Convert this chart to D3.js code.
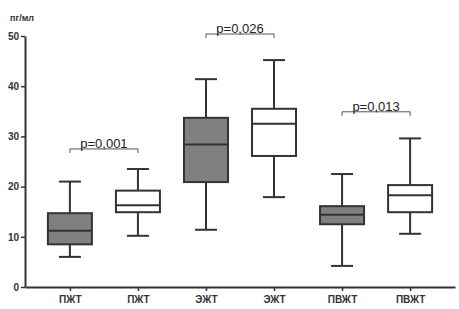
<!DOCTYPE html>
<html>
<head>
<meta charset="utf-8">
<script src="https://cdn.jsdelivr.net/npm/d3@7"></script>
<style>
  body { margin: 0; background: #fff; }
  svg { display: block; }
</style>
</head>
<body>
<div id="chart"></div>
<script>
// groups along the x axis
const labels = ['ПЖТ', 'ПЖТ', 'ЭЖТ', 'ЭЖТ', 'ПВЖТ', 'ПВЖТ'];
const filled = [true, false, true, false, true, false];
// box statistics per group
const whiskerLow = [6.0, 10.2, 11.4, 17.9, 4.2, 10.6];
const q1 = [8.5, 14.9, 20.9, 26.1, 12.5, 14.9];
const median = [11.2, 16.3, 28.4, 32.5, 14.4, 18.3];
const q3 = [14.7, 19.2, 33.7, 35.5, 16.1, 20.3];
const whiskerHigh = [21.0, 23.5, 41.4, 45.2, 22.5, 29.6];
// significance brackets
const pLabels = ['p=0,001', 'p=0,026', 'p=0,013'];
const pFrom = [0, 2, 4];
const pTo = [1, 3, 5];
const pLevel = [27.5, 50.4, 34.9];
const yTicks = [0, 10, 20, 30, 40, 50];

const svgWidth = 459, svgHeight = 309;
const ink = '#333';

const svg = d3.select('#chart')
  .append('svg')
  .attr('width', svgWidth)
  .attr('height', svgHeight);

const x = d3.scalePoint()
  .domain(d3.range(labels.length))
  .range([25, 455])
  .padding(0.66);

const y = d3.scaleLinear()
  .domain([0, 50])
  .range([287, 36]);

const boxW = 44;

// y axis
const yAxis = svg.append('g')
  .attr('transform', 'translate(25,0)')
  .call(d3.axisLeft(y).tickValues(yTicks).tickSize(4).tickSizeOuter(0));
yAxis.select('.domain').attr('stroke', ink).attr('stroke-width', 2);
yAxis.selectAll('line').attr('stroke', ink).attr('stroke-width', 1.5);
yAxis.selectAll('text')
  .attr('fill', ink)
  .style('font', 'bold 10px "Liberation Sans", Arial, sans-serif')
  .attr('x', -6);

// x axis
const xAxis = svg.append('g')
  .attr('transform', 'translate(0,287)')
  .call(d3.axisBottom(x).tickSize(4).tickSizeOuter(0).tickFormat((i) => labels[i]));
xAxis.select('.domain').attr('stroke', ink).attr('stroke-width', 2);
xAxis.selectAll('line').attr('stroke', ink).attr('stroke-width', 1.5);
xAxis.selectAll('text')
  .attr('fill', ink)
  .attr('y', 9)
  .style('font', 'bold 10px "Liberation Sans", Arial, sans-serif');

// unit label
svg.append('text')
  .attr('x', 10)
  .attr('y', 21)
  .attr('fill', ink)
  .style('font', 'bold 9px "Liberation Sans", Arial, sans-serif')
  .text('пг/мл');

// boxes
const groups = svg.selectAll('.box')
  .data(d3.range(labels.length))
  .enter()
  .append('g')
  .attr('class', 'box');

groups.append('line')
  .attr('x1', (i) => x(i)).attr('x2', (i) => x(i))
  .attr('y1', (i) => y(whiskerHigh[i])).attr('y2', (i) => y(q3[i]))
  .attr('stroke', ink).attr('stroke-width', 2);
groups.append('line')
  .attr('x1', (i) => x(i)).attr('x2', (i) => x(i))
  .attr('y1', (i) => y(q1[i])).attr('y2', (i) => y(whiskerLow[i]))
  .attr('stroke', ink).attr('stroke-width', 2);
[whiskerHigh, whiskerLow].forEach((arr) => {
  groups.append('line')
    .attr('x1', (i) => x(i) - 11).attr('x2', (i) => x(i) + 11)
    .attr('y1', (i) => y(arr[i])).attr('y2', (i) => y(arr[i]))
    .attr('stroke', ink).attr('stroke-width', 2);
});
groups.append('rect')
  .attr('x', (i) => x(i) - boxW / 2)
  .attr('y', (i) => y(q3[i]))
  .attr('width', boxW)
  .attr('height', (i) => y(q1[i]) - y(q3[i]))
  .attr('fill', (i) => (filled[i] ? '#808080' : '#fff'))
  .attr('stroke', ink).attr('stroke-width', 2);
groups.append('line')
  .attr('x1', (i) => x(i) - boxW / 2).attr('x2', (i) => x(i) + boxW / 2)
  .attr('y1', (i) => y(median[i])).attr('y2', (i) => y(median[i]))
  .attr('stroke', ink).attr('stroke-width', 2);

// significance brackets
pLabels.forEach((lab, k) => {
  const x1 = x(pFrom[k]), x2 = x(pTo[k]), yy = y(pLevel[k]);
  svg.append('path')
    .attr('d', `M${x1},${yy + 4}V${yy}H${x2}V${yy + 4}`)
    .attr('fill', 'none')
    .attr('stroke', '#555')
    .attr('stroke-width', 1);
  svg.append('text')
    .attr('x', (x1 + x2) / 2)
    .attr('y', yy - 1)
    .attr('text-anchor', 'middle')
    .attr('fill', '#222')
    .style('font', '13px "Liberation Sans", Arial, sans-serif')
    .text(lab);
});
</script>
</body>
</html>
